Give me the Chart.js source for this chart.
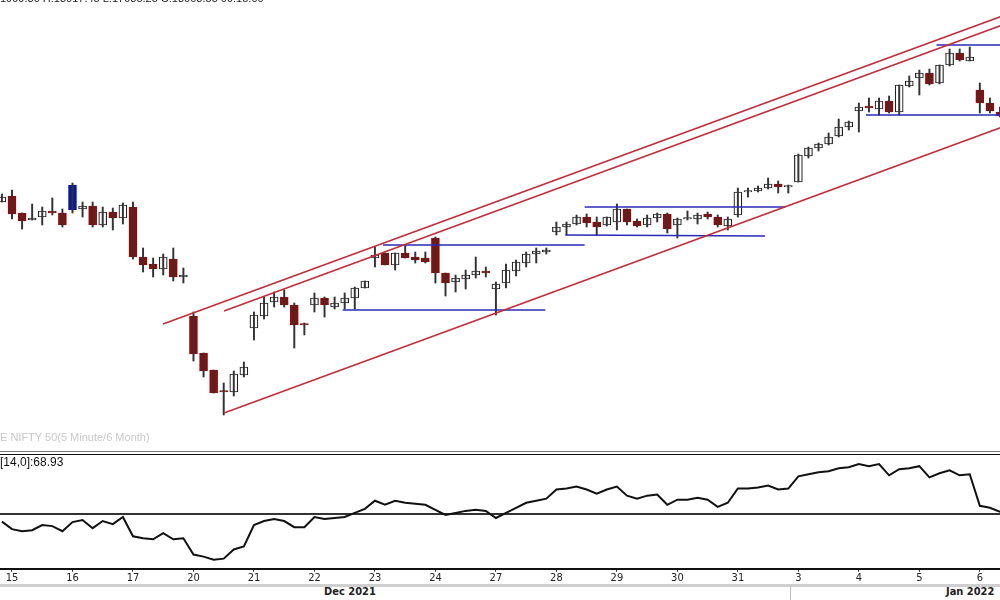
<!DOCTYPE html>
<html><head><meta charset="utf-8">
<script src="https://cdn.jsdelivr.net/npm/chart.js@4"></script>
<style>
body{margin:0;width:1000px;height:600px;overflow:hidden;background:#fff;font-family:"Liberation Sans",Arial,sans-serif;position:relative}
#c1{position:absolute;left:0;top:0}
#c2{position:absolute;left:0;top:455px}
.t{position:absolute;white-space:nowrap}
.n{font-family:'Liberation Sans Narrow','DejaVu Sans Condensed',sans-serif}
</style></head><body>
<div style="position:absolute;left:0;top:584px;width:1000px;height:3px;background:#cfcfcf"></div>
<canvas id="c1" width="1000" height="450"></canvas>
<canvas id="c2" width="1000" height="130"></canvas>
<div class="t" style="left:0;top:-8px;font-size:11px;color:#222">1999.30 H:18017.45 L:17985.25 C:18003.55 09:15:00</div>
<div class="t" style="left:0;top:431px;font-size:11px;color:#c8c8c8">E NIFTY 50(5 Minute/6 Month)</div>
<div style="position:absolute;left:0;top:451px;width:1000px;height:1px;background:#777"></div>
<div style="position:absolute;left:0;top:454px;width:1000px;height:1px;background:#111"></div>
<div class="t" style="left:0;top:455px;font-size:12px;color:#111">[14,0]:68.93</div>
<div style="position:absolute;left:790px;top:587px;width:1px;height:13px;background:#bbb"></div>
<div class="t n" style="left:324px;top:585px;font-size:11px;color:#222;font-weight:bold">Dec 2021</div>
<div class="t n" style="left:946px;top:585px;font-size:11px;color:#222;font-weight:bold">Jan 2022</div>
<script>
// candle index -1 .. 98, OHLC in chart level units
const candleIndex=[-1,0,1,2,3,4,5,6,7,8,9,10,11,12,13,14,15,16,17,18,19,20,21,22,23,24,25,26,27,28,29,30,31,32,33,34,35,36,37,38,39,40,41,42,43,44,45,46,47,48,49,50,51,52,53,54,55,56,57,58,59,60,61,62,63,64,65,66,67,68,69,70,71,72,73,74,75,76,77,78,79,80,81,82,83,84,85,86,87,88,89,90,91,92,93,94,95,96,97,98];
const opens=[298,304,287,280,283,289,287,290,291,294,275,288,282,293,243,236,231,241,223,184,147,130,109,108,125,172,184,198,203,195,176,195,202,193,197,202,212,242,247,235,247,243,242,262,227,218,221,225,229,211,217,229,237,246,248,268,273,276,283,278,275,278,291,279,275,282,286,275,281,281,286,283,274,285,308,309,312,316,313,318,344,352,356,364,373,389,394,391,399,388,414,422,427,417,435,447,439,410,397,388];
const highs=[306,310,287,296,293,302,291,317,298,298,293,292,297,298,252,242,246,252,232,188,147,130,117,129,138,188,203,208,210,197,177,207,203,203,207,213,219,253,247,247,255,248,248,263,227,225,230,243,233,218,236,240,248,252,252,278,278,285,286,283,283,296,291,281,285,287,287,282,289,287,288,285,283,312,312,314,322,319,315,346,353,357,367,381,379,397,402,402,404,415,424,430,431,435,451,451,453,417,402,393];
const lows=[298,281,271,280,275,285,273,287,283,273,273,270,276,241,228,223,225,219,217,139,123,107,85,104,123,160,181,193,193,152,165,188,183,191,191,191,212,233,235,230,242,237,237,217,204,208,211,222,223,185,212,224,233,237,246,265,265,275,273,265,274,270,275,273,273,278,267,262,280,276,281,273,270,283,303,308,311,307,307,318,342,349,355,363,370,368,388,385,387,385,413,405,415,416,434,439,439,387,387,383];
const closes=[303,286,279,282,289,287,275,315,294,275,288,282,295,243,235,231,243,223,225,146,129,107,108,126,133,185,197,203,195,175,175,202,195,197,202,212,219,245,235,247,242,240,238,227,217,222,225,229,227,216,230,238,246,249,250,273,276,283,277,273,283,291,278,274,282,286,271,281,282,285,283,275,281,308,309,312,316,313,313,345,352,356,363,373,378,393,392,399,388,415,419,427,416,435,447,440,443,397,389,384];
const blueCandles=[7];
// trend lines [x1,y1,x2,y2]
const redLines=[[14.98,176,98.5,485],[21.03,189,98.5,476],[21.03,87,98.5,374]];
const blueLines=[[32.8,190,52.9,190],[36.8,255,56.8,255],[56.8,293,76.7,293],[54.9,265,74.7,264],[84.7,385,98.5,385],[91.7,455,98.5,455]];
// RSI(14)
const rsiValues=[46.2,42.5,41.5,42,44.5,44,41.5,46,47,43,46.5,45,48.5,39,38,37.5,40.5,37.5,38,30,29,27.5,28,32.5,34,44.5,46.5,47.5,46.5,43.5,43.5,48.5,47.5,48,48.5,50.5,52.5,56.5,54.5,56.5,55.5,55,54.5,52,49.5,50.5,51.5,52,51.5,48,50.5,53,55.5,56.5,57.5,62,62.5,63.5,62,60,62,63.5,59,57.5,59,59.5,54.5,57,57,58,57,53.5,55.5,62.5,62.5,63,64,62,62.5,68.5,69.5,70.5,71,72.5,73,74.5,73.5,74.5,69,72,72.5,73.5,68,70,71.5,69,69.5,54,53,51,53];
const rsiLevel=50;
const dayTickIndex=[0,6,12,18,24,30,36,42,48,54,60,66,72,78,84,90,96];
const dayLabels=['15','16','17','20','21','22','23','24','27','28','29','30','31','3','4','5','6'];

const XMIN=-1.19, XMAX=98.0;
const up='#ffffff', down='#8b0d0d', blue='#0a1a9c';
const bodyColor=candleIndex.map((x,k)=>blueCandles.includes(k)?blue:(closes[k]>=opens[k]?up:down));
const bodyBorder=candleIndex.map((x,k)=>blueCandles.includes(k)?blue:(closes[k]>=opens[k]?'#222':down));
const datasets=[];
redLines.forEach(l=>datasets.push({type:'line',data:[{x:l[0],y:l[1]},{x:l[2],y:l[3]}],borderColor:'#c0303c',borderWidth:1.7,pointRadius:0}));
blueLines.forEach(l=>datasets.push({type:'line',data:[{x:l[0],y:l[1]},{x:l[2],y:l[3]}],borderColor:'#2a2ab8',borderWidth:1.6,pointRadius:0}));
datasets.push({type:'bar',data:candleIndex.map((x,k)=>({x:x,y:[lows[k],highs[k]]})),backgroundColor:'#333',barThickness:1.3,grouped:false,minBarLength:1});
datasets.push({type:'bar',data:candleIndex.map((x,k)=>({x:x,y:[Math.min(opens[k],closes[k]),Math.max(opens[k],closes[k])]})),backgroundColor:bodyColor,borderColor:bodyBorder,borderWidth:1.2,borderSkipped:false,barThickness:8,grouped:false,minBarLength:1.5});

new Chart(document.getElementById('c1'),{data:{datasets},options:{responsive:false,animation:false,
 layout:{padding:0},plugins:{legend:{display:false},tooltip:{enabled:false}},
 scales:{x:{type:'linear',min:XMIN,max:XMAX,offset:false,bounds:'ticks',display:false},y:{min:50,max:500,display:false}}}});

new Chart(document.getElementById('c2'),{type:'line',data:{datasets:[
 {data:rsiValues.map((v,k)=>({x:k-1,y:v})),borderColor:'#111',borderWidth:2,pointRadius:0,tension:0},
 {data:[{x:XMIN,y:rsiLevel},{x:XMAX,y:rsiLevel}],borderColor:'#333',borderWidth:2,pointRadius:0}
]},options:{responsive:false,animation:false,layout:{padding:0},
 plugins:{legend:{display:false},tooltip:{enabled:false}},
 scales:{
  x:{type:'linear',min:XMIN,max:XMAX,offset:false,
   afterBuildTicks:s=>{s.ticks=dayTickIndex.map(v=>({value:v}));},
   ticks:{autoSkip:false,maxRotation:0,padding:0,color:'#222',font:{family:"'Liberation Sans Narrow','DejaVu Sans Condensed',sans-serif",size:11},callback:(v)=>{const k=dayTickIndex.indexOf(v);return k>=0?dayLabels[k]:'';}},
   grid:{drawOnChartArea:false,drawTicks:true,tickLength:3,color:'#333'},
   border:{color:'#111',width:2}},
  y:{min:23,max:79,display:false}}}});
</script></body></html>
